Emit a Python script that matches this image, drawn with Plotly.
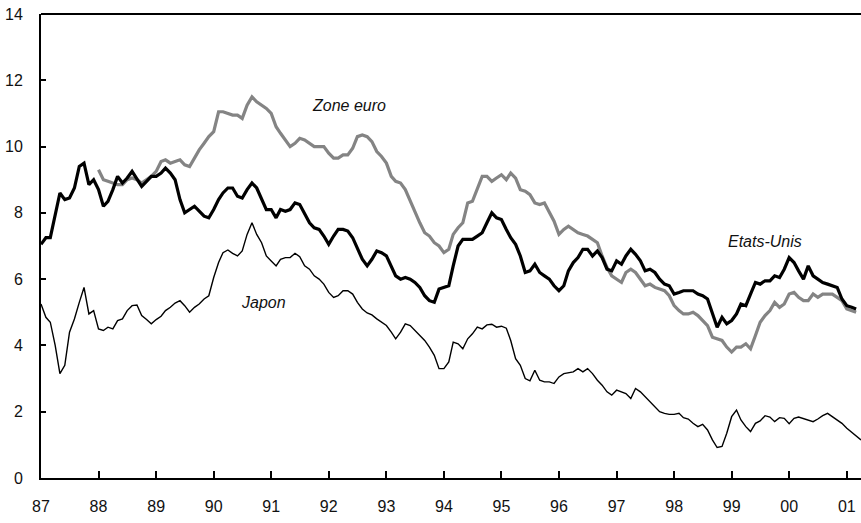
import pandas as pd
import plotly.graph_objects as go

# monthly rates, Jan 1987 onwards (%)
etats_unis = [
    7.05, 7.25, 7.25, 7.9, 8.6, 8.4, 8.45, 8.75, 9.4, 9.5, 8.85, 9.0,
    8.7, 8.2, 8.35, 8.7, 9.1, 8.9, 9.05, 9.25, 9.0, 8.8, 8.95, 9.1,
    9.1, 9.2, 9.35, 9.2, 9.0, 8.4, 8.0, 8.1, 8.2, 8.05, 7.9, 7.85,
    8.1, 8.4, 8.6, 8.75, 8.75, 8.5, 8.45, 8.7, 8.9, 8.75, 8.4, 8.1,
    8.1, 7.85, 8.1, 8.05, 8.1, 8.3, 8.25, 7.95, 7.7, 7.55, 7.5, 7.3,
    7.05, 7.3, 7.5, 7.5, 7.45, 7.25, 6.95, 6.6, 6.4, 6.6, 6.85, 6.8,
    6.7, 6.4, 6.1, 6.0, 6.05, 6.0, 5.9, 5.75, 5.5, 5.35, 5.3, 5.7,
    5.75, 5.8, 6.4, 7.0, 7.2, 7.2, 7.2, 7.3, 7.4, 7.7, 8.0, 7.85,
    7.8, 7.5, 7.25, 7.05, 6.7, 6.2, 6.25, 6.45, 6.2, 6.1, 6.0, 5.8,
    5.65, 5.8, 6.25, 6.5, 6.65, 6.9, 6.9, 6.7, 6.85, 6.65, 6.3, 6.25,
    6.55, 6.45, 6.7, 6.9, 6.75, 6.55, 6.25, 6.3, 6.2, 6.0, 5.85, 5.8,
    5.55, 5.6, 5.65, 5.65, 5.65, 5.55, 5.5, 5.4, 5.0, 4.55, 4.85, 4.65,
    4.75, 4.95, 5.25, 5.2, 5.55, 5.9, 5.85, 5.95, 5.95, 6.1, 6.05, 6.3,
    6.65, 6.5, 6.25, 6.0, 6.4, 6.1, 6.0, 5.9, 5.85, 5.8, 5.75, 5.4,
    5.2, 5.15, 5.1,
]

# starts Jan 1988
zone_euro = [
    9.3, 9.0, 8.95, 8.9, 8.85, 8.85, 9.0, 9.05, 9.0, 8.9, 9.0, 9.1,
    9.25, 9.55, 9.6, 9.5, 9.55, 9.6, 9.45, 9.4, 9.65, 9.9, 10.1, 10.3,
    10.45, 11.05, 11.05, 11.0, 10.95, 10.95, 10.85, 11.25, 11.5, 11.35, 11.25, 11.15,
    11.0, 10.6, 10.4, 10.2, 10.0, 10.1, 10.25, 10.2, 10.1, 10.0, 10.0, 10.0,
    9.8, 9.65, 9.65, 9.75, 9.75, 9.95, 10.3, 10.35, 10.3, 10.15, 9.85, 9.7,
    9.5, 9.1, 8.95, 8.9, 8.7, 8.35, 8.0, 7.7, 7.4, 7.3, 7.1, 7.0,
    6.8, 6.9, 7.35, 7.55, 7.7, 8.3, 8.35, 8.7, 9.1, 9.1, 8.95, 9.05,
    9.15, 9.0, 9.2, 9.05, 8.7, 8.65, 8.55, 8.3, 8.25, 8.3, 8.0, 7.75,
    7.35, 7.5, 7.6, 7.5, 7.4, 7.35, 7.3, 7.2, 7.1, 6.7, 6.35, 6.1,
    6.0, 5.9, 6.2, 6.3, 6.2, 6.0, 5.8, 5.85, 5.75, 5.7, 5.65, 5.5,
    5.2, 5.05, 4.95, 4.95, 5.0, 4.9, 4.75, 4.6, 4.25, 4.2, 4.15, 3.95,
    3.8, 3.95, 3.95, 4.05, 3.9, 4.3, 4.7, 4.9, 5.05, 5.3, 5.15, 5.25,
    5.55, 5.6, 5.45, 5.35, 5.35, 5.55, 5.45, 5.55, 5.55, 5.55, 5.45, 5.35,
    5.1, 5.05, 5.0,
]

japon = [
    5.25, 4.85, 4.7, 4.0, 3.15, 3.4, 4.4, 4.8, 5.3, 5.75, 4.95, 5.05,
    4.5, 4.45, 4.55, 4.5, 4.75, 4.8, 5.05, 5.2, 5.22, 4.9, 4.78, 4.65,
    4.78, 4.88, 5.05, 5.15, 5.28, 5.35, 5.2, 5.0, 5.15, 5.25, 5.4, 5.5,
    6.05, 6.5, 6.8, 6.88, 6.78, 6.7, 6.85, 7.35, 7.7, 7.35, 7.1, 6.7,
    6.55, 6.4, 6.6, 6.65, 6.65, 6.78, 6.68, 6.4, 6.3, 6.1, 6.0, 5.85,
    5.6, 5.45, 5.5, 5.65, 5.65, 5.55, 5.3, 5.1, 4.98, 4.92, 4.8, 4.7,
    4.6, 4.4, 4.2, 4.4, 4.65, 4.6, 4.45, 4.3, 4.15, 3.95, 3.7, 3.3,
    3.3, 3.5, 4.1, 4.05, 3.9, 4.2, 4.35, 4.55, 4.5, 4.62, 4.64, 4.55,
    4.58, 4.52, 4.15, 3.6, 3.4, 3.0, 2.93, 3.25, 2.95, 2.9, 2.9, 2.85,
    3.05, 3.15, 3.18, 3.2, 3.3, 3.2, 3.3, 3.15, 2.95, 2.8, 2.6, 2.5,
    2.65, 2.6, 2.55, 2.4, 2.7, 2.6, 2.45, 2.3, 2.15, 2.0, 1.95, 1.92,
    1.92, 1.95, 1.82, 1.78, 1.65, 1.55, 1.62, 1.45, 1.15, 0.92, 0.95, 1.35,
    1.85, 2.05, 1.75, 1.55, 1.4, 1.65, 1.72, 1.88, 1.84, 1.7, 1.82, 1.8,
    1.64, 1.8, 1.84, 1.8, 1.75, 1.7, 1.78, 1.88, 1.95, 1.85, 1.75, 1.65,
    1.5, 1.38, 1.25, 1.15,
]

dates_us = pd.date_range("1987-01-01", periods=len(etats_unis), freq="MS")
dates_eu = pd.date_range("1988-01-01", periods=len(zone_euro), freq="MS")
dates_jp = pd.date_range("1987-01-01", periods=len(japon), freq="MS")

FONT = "Liberation Sans, Arial, sans-serif"

fig = go.Figure()
fig.add_trace(go.Scatter(x=dates_jp, y=japon, mode="lines", name="Japon",
                         line=dict(color="#000000", width=1.4)))
fig.add_trace(go.Scatter(x=dates_eu, y=zone_euro, mode="lines", name="Zone euro",
                         line=dict(color="#848484", width=3.2)))
fig.add_trace(go.Scatter(x=dates_us, y=etats_unis, mode="lines", name="Etats-Unis",
                         line=dict(color="#000000", width=3.2)))

labels = [("Zone euro", "1992-05-10", 11.23),
          ("Etats-Unis", "1999-08-01", 7.15),
          ("Japon", "1990-11-15", 5.31)]
for txt, xx, yy in labels:
    fig.add_annotation(x=xx, y=yy, text=txt, showarrow=False,
                       font=dict(family=FONT, size=16, color="#111111", style="italic"))

# top border of the frame
fig.add_shape(type="line", xref="paper", yref="paper", x0=0, x1=1, y0=1, y1=1,
              line=dict(color="#000000", width=2))

fig.update_layout(
    width=861, height=523,
    margin=dict(l=41, r=0, t=14, b=45, autoexpand=False),
    paper_bgcolor="white", plot_bgcolor="white",
    showlegend=False,
    font=dict(family=FONT, size=16, color="#111111"),
)
fig.update_xaxes(
    range=["1987-01-01", "2001-04-01"],
    tickvals=pd.date_range("1987-01-01", "2001-01-01", freq="YS"),
    tickformat="%y",
    ticks="inside", ticklen=7, tickwidth=1.5, tickcolor="#000000",
    showline=True, linecolor="#000000", linewidth=2,
    showgrid=False, zeroline=False, ticklabelstandoff=13, automargin=False,
)
fig.update_yaxes(
    range=[0, 14], dtick=2,
    ticks="inside", ticklen=5, tickwidth=1.5, tickcolor="#000000",
    showline=True, linecolor="#000000", linewidth=2,
    showgrid=False, zeroline=False, ticklabelstandoff=13, automargin=False,
    ticklabeloverflow="allow",
)

# drop the default page margin so the figure sits at the window corner
fig.write_html("out.html", config={"displayModeBar": False},
               post_script="document.body.style.margin='0';")
